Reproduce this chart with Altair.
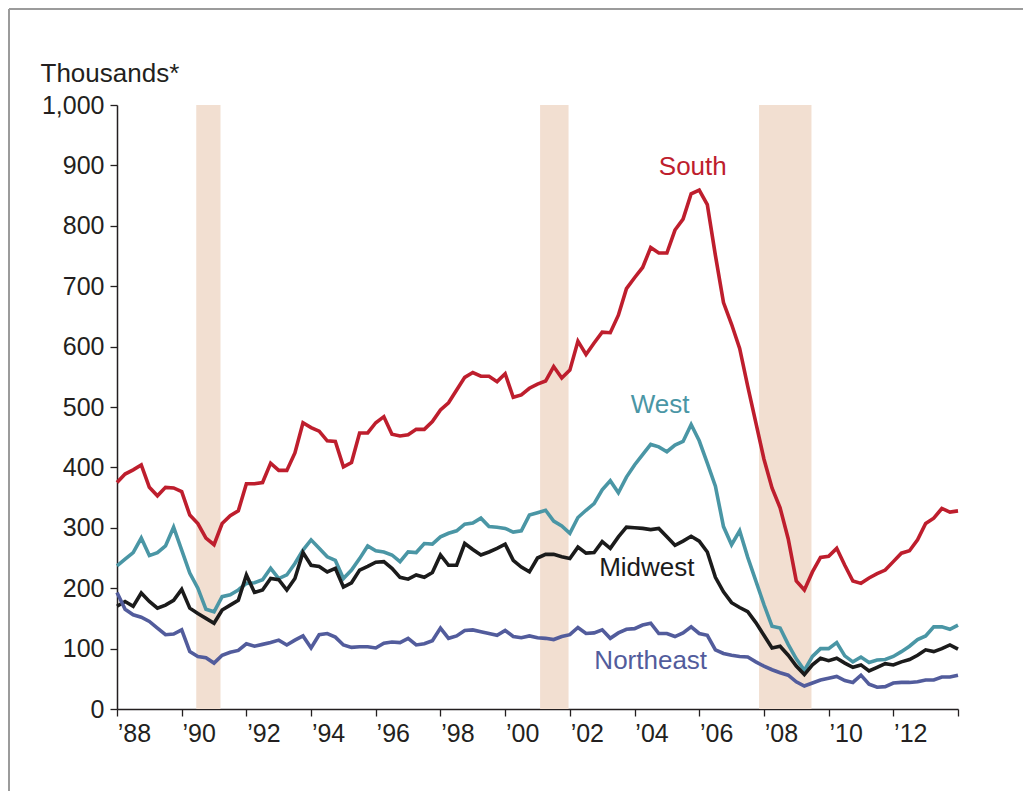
import altair as alt
import pandas as pd

# quarterly observations, first point plotted at 1988.0
start_year = 1988
regions = ["South", "West", "Midwest", "Northeast"]
colors = ["#BE1E2D", "#4A96A5", "#1B1B1B", "#525C9C"]

south = [375, 389, 396, 404, 367, 353, 367, 366, 360, 321, 307, 283, 272, 307, 320, 328,
         373, 373, 375, 407, 395, 395, 424, 474, 466, 460, 444, 443, 401, 408, 457, 457,
         474, 484, 455, 452,
         454, 463, 463, 476, 495, 507, 528, 549, 557, 551, 551, 542, 555, 516, 520, 531, 538,
         543, 567, 548, 561, 609, 587, 606, 624, 623, 652, 696, 714, 731, 764, 755, 755, 793,
         811, 853, 859,
         835, 751, 673, 637, 597, 534, 474, 414, 366, 333, 282, 212, 197,
         227, 251, 253, 266, 238, 212, 208, 217, 224, 230, 244, 258, 262, 280, 307, 316, 332,
         326, 328]
west = [237, 248, 259, 283, 254, 259, 270, 301, 263, 225, 200, 165, 161, 186, 189, 197,
        208, 209, 214, 233, 216, 222, 241, 263, 280, 266, 252, 246, 216, 230, 249, 270,
        262, 260, 255, 244,
        260, 259, 274, 273, 285, 291, 295, 306, 308, 316, 302, 301, 299, 293, 295, 321, 325,
        329, 311, 303, 291, 317, 329, 340, 363, 378, 358, 384, 404, 421, 438, 434, 426, 437,
        443,
        471, 444, 407, 369, 302, 272, 295, 251, 212, 173, 137, 134, 107, 83, 64,
        87, 100, 100, 110, 88, 78, 86, 77, 81, 82, 87, 95, 104, 115, 121, 136, 136, 132, 139]
midwest = [170, 178, 170, 192, 178, 167, 172, 180, 198, 167, 158, 150, 142, 164, 172, 180,
           222, 193, 197, 216, 214, 197, 216, 259, 238, 236, 227, 233, 202, 209, 230, 236,
           243, 244, 233, 218,
           215, 222, 218, 226, 255, 238, 238, 274, 264, 255, 260, 266, 273, 246, 235, 227, 250,
           256, 256, 252, 249, 268, 258, 259, 277, 266, 285, 301, 300, 299, 297, 299, 285, 271,
           278,
           286, 278, 260, 218, 194, 176, 168, 161, 143, 122, 101, 104, 89, 71, 57,
           73, 84, 80, 84, 76, 69, 73, 63, 69, 75, 73, 78, 82, 89, 98, 95, 100, 106, 99]
northeast = [193, 165, 156, 152, 145, 134, 123, 124, 131, 95, 87, 85, 76, 89, 94, 97,
             108, 104, 107, 110, 114, 106, 114, 121, 101, 123, 125, 119, 106, 102, 103, 103,
             101, 109, 111, 110,
             117, 106, 108, 113, 134, 117, 121, 130, 131, 128, 125, 122, 130, 120, 118, 121, 118,
             117, 115, 120, 123, 135, 125, 126, 131, 117, 126, 132, 133, 139, 142, 125, 125, 120,
             126,
             136, 125, 122, 98, 92, 89, 87, 86, 78, 71, 65, 60, 56, 45, 38,
             43, 48, 51, 54, 47, 44, 56, 41, 36, 37, 43, 44, 44, 45, 48, 48, 53, 53, 56]

rec_start = [1990.45, 2001.08, 2007.85]
rec_end = [1991.2, 2001.96, 2009.47]

label_text = ["South", "West", "Midwest", "Northeast"]
label_t = [2005.8, 2004.79, 2004.38, 2004.5]
label_v = [897, 503, 233, 79]

rows = []
for name, vals in zip(regions, [south, west, midwest, northeast]):
    for i, v in enumerate(vals):
        rows.append({"t": start_year + i / 4, "value": v, "region": name})
df = pd.DataFrame(rows)
rec = pd.DataFrame({"start": rec_start, "end": rec_end})
labels = pd.DataFrame({"region": label_text, "t": label_t, "value": label_v})

W, H = 841, 604
FONT = "Liberation Sans"
INK = "#231F20"

xscale = alt.Scale(domain=[1988, 2014], nice=False, zero=False)
yscale = alt.Scale(domain=[0, 1000], nice=False)
cscale = alt.Scale(domain=regions, range=colors)

xaxis = alt.Axis(
    values=list(range(1988, 2015)),
    labelExpr="(datum.value % 2 == 0 && datum.value < 2013) ? '\u2019' + slice(toString(datum.value), 2) : ''",
    labelOffset=17, labelOverlap=False, labelFlush=False,
    tickSize=7, tickWidth=1.3, tickColor=INK,
    domainColor=INK, domainWidth=1.5,
    labelFontSize=25, labelFont=FONT, labelColor=INK, labelPadding=5,
    grid=False, title=None,
)
yaxis = alt.Axis(
    values=list(range(0, 1001, 100)), format=",.0f",
    tickSize=7, tickWidth=1.3, tickColor=INK,
    domainColor=INK, domainWidth=1.5,
    labelFontSize=25, labelFont=FONT, labelColor=INK, labelPadding=6,
    grid=False,
    title="Thousands*", titleAngle=0, titleAlign="left", titleBaseline="alphabetic",
    titleX=-77, titleY=-24, titleFontSize=26, titleFont=FONT, titleFontWeight="normal",
    titleColor=INK,
)

bands = alt.Chart(rec).mark_rect(color="#F2DFD1").encode(
    x=alt.X("start:Q", scale=xscale, axis=xaxis),
    x2="end:Q",
    y=alt.value(0),
    y2=alt.value(H),
)

lines = alt.Chart(df).mark_line(strokeWidth=3.6, strokeJoin="miter").encode(
    x=alt.X("t:Q", scale=xscale, axis=xaxis),
    y=alt.Y("value:Q", scale=yscale, axis=yaxis),
    color=alt.Color("region:N", scale=cscale, legend=None),
    order="t:Q",
)

texts = alt.Chart(labels).mark_text(fontSize=26, font=FONT, align="center", baseline="middle").encode(
    x=alt.X("t:Q", scale=xscale),
    y=alt.Y("value:Q", scale=yscale),
    text="region:N",
    color=alt.Color("region:N", scale=cscale, legend=None),
)

frame_top = alt.Chart(labels).mark_rule(color="#9B9B9B", strokeWidth=2).encode(
    x=alt.value(-108), x2=alt.value(960), y=alt.value(-96)
)
frame_left = alt.Chart(labels).mark_rule(color="#9B9B9B", strokeWidth=2).encode(
    x=alt.value(-108), y=alt.value(-96), y2=alt.value(700)
)

chart = alt.layer(bands, lines, texts, frame_top, frame_left).properties(
    width=W, height=H,
    autosize=alt.AutoSizeParams(type="none"),
    padding={"left": 109, "top": 97, "right": 65, "bottom": 82},
).configure_view(strokeWidth=0)

chart.save("out.html", embed_options={"renderer": "svg", "actions": False})
